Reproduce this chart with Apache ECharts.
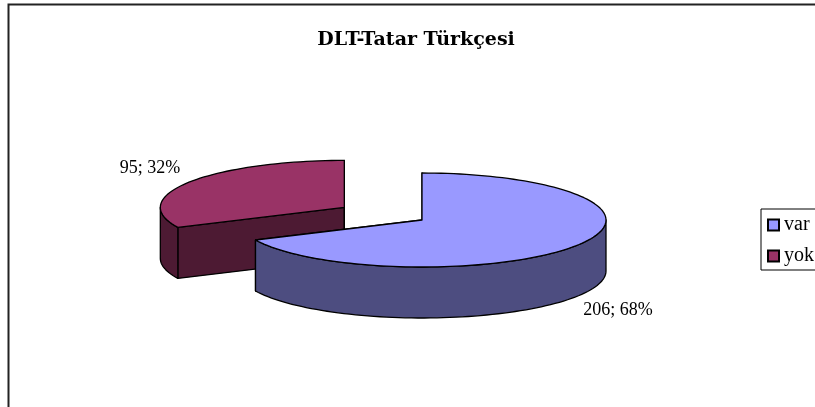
<!DOCTYPE html>
<html>
<head>
<meta charset="utf-8">
<title>DLT-Tatar Türkçesi</title>
<script src="https://cdn.jsdelivr.net/npm/echarts@6/dist/echarts.min.js"></script>
<style>
  html, body { margin: 0; padding: 0; background: #ffffff; overflow: hidden; }
  #chart { width: 815px; height: 407px; }
</style>
</head>
<body>
<div id="chart"></div>
<script>
const categories = ['var', 'yok'];
const values = [206, 95];
const percents = [68, 32];

const colors = ['#9999ff', '#993366'];
const sideColors = ['#4d4d80', '#4d1a33'];

// layout of the tilted pie
const center = [422, 220];
const radiusX = 184;
const radiusY = 47;
const depth = 51;
const explode = [0, 0.5];
const labelPos = [[618, 310], [150, 168]];
const serif = '"Liberation Serif", serif';

const chart = echarts.init(document.getElementById('chart'));

function toAngle(p) {
  return echarts.number.linearMap(p, [0, 100], [0, 360]);
}

// angle is clockwise from 12 o'clock
function rim(c, deg) {
  const r = deg * Math.PI / 180;
  return [c[0] + radiusX * Math.sin(r), c[1] - radiusY * Math.cos(r)];
}

function arcPoints(c, from, to) {
  const pts = [];
  const n = Math.max(2, Math.ceil((to - from) / 2));
  for (let i = 0; i <= n; i++) {
    pts.push(rim(c, from + (to - from) * i / n));
  }
  return pts;
}

function down(p) {
  return [p[0], p[1] + depth];
}

function sliceItem(idx) {
  return function (params, api) {
    const before = percents.slice(0, idx).reduce((a, b) => a + b, 0);
    const from = toAngle(before);
    const to = toAngle(before + percents[idx]);
    const mid = (from + to) / 2;
    const off = rim([0, 0], mid);
    const c = [center[0] + off[0] * explode[idx], center[1] + off[1] * explode[idx]];
    const line = { stroke: '#000000', lineWidth: 1.3, lineJoin: 'round' };
    const children = [];
    const addSide = pts => children.push({
      type: 'polygon',
      shape: { points: pts },
      style: Object.assign({ fill: sideColors[idx] }, line)
    });

    // cut faces first, the round wall and top are painted over them
    [from, to].forEach(a => {
      const p = rim(c, a);
      addSide([c, p, down(p), down(c)]);
    });
    // only the front half of the rim wall can be seen
    const a0 = Math.max(from, 90);
    const a1 = Math.min(to, 270);
    if (a1 > a0) {
      const arc = arcPoints(c, a0, a1);
      addSide(arc.concat(arc.map(down).reverse()));
    }
    children.push({
      type: 'polygon',
      shape: { points: [c].concat(arcPoints(c, from, to)) },
      style: Object.assign({ fill: colors[idx] }, line)
    });
    children.push({
      type: 'text',
      style: {
        x: labelPos[idx][0],
        y: labelPos[idx][1],
        text: api.value(0) + '; ' + percents[idx] + '%',
        font: '18px ' + serif,
        fill: '#000000',
        align: 'center',
        verticalAlign: 'middle'
      }
    });
    return { type: 'group', children: children };
  };
}

chart.setOption({
  animation: false,
  backgroundColor: '#ffffff',
  title: {
    text: 'DLT-Tatar Türkçesi',
    left: 411,
    top: 26,
    textAlign: 'center',
    textStyle: { fontFamily: '"DejaVu Serif", serif', fontWeight: 'bold', fontSize: 19, color: '#000000' }
  },
  legend: {
    orient: 'vertical',
    left: 761,
    top: 209,
    padding: [6, 10, 4, 6],
    itemGap: 11,
    itemWidth: 11,
    itemHeight: 11,
    borderColor: '#000000',
    borderWidth: 1,
    borderRadius: 0,
    textStyle: { fontFamily: serif, fontSize: 20, color: '#000000' },
    data: categories.map(name => ({ name: name, icon: 'rect' }))
  },
  graphic: [{
    // chart area frame, its right and bottom sides fall outside the picture
    type: 'rect',
    shape: { x: 8.5, y: 4.5, width: 900, height: 500 },
    style: { fill: 'none', stroke: '#222222', lineWidth: 2 },
    silent: true
  }],
  series: categories.map((name, i) => ({
    type: 'custom',
    name: name,
    coordinateSystem: 'none',
    z: 2 + (categories.length - i),
    itemStyle: { color: colors[i], borderColor: '#000000', borderWidth: 1 },
    renderItem: sliceItem(i),
    data: [[values[i]]]
  }))
});
</script>
</body>
</html>
